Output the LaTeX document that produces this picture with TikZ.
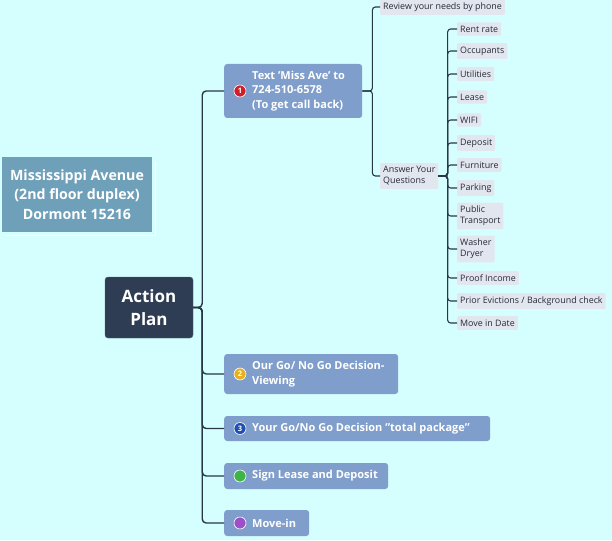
\documentclass[tikz,border=0pt]{standalone}
\usepackage{fontspec}
\setmainfont{Open Sans}
\definecolor{bgc}{RGB}{213,255,255}
\definecolor{linec}{RGB}{40,55,70}
\definecolor{branchc}{RGB}{127,158,203}
\definecolor{leafc}{RGB}{226,231,239}
\definecolor{leaftext}{RGB}{40,42,55}
\definecolor{msc}{RGB}{111,160,185}
\definecolor{apc}{RGB}{46,61,84}
\definecolor{mred}{RGB}{210,30,40}
\definecolor{myellow}{RGB}{232,176,32}
\definecolor{mblue}{RGB}{30,80,180}
\definecolor{mgreen}{RGB}{60,180,70}
\definecolor{mpurple}{RGB}{155,80,200}
\begin{document}
\begin{tikzpicture}[x=1pt,y=-1pt,
  conn/.style={draw=linec, line width=1.4pt, rounded corners=4pt},
  subconn/.style={draw=linec, line width=1.1pt, rounded corners=3pt},
  branchbox/.style={fill=branchc, rounded corners=3pt, anchor=west, inner sep=0pt},
  btext/.style={anchor=west, text=white, font=\bfseries\fontsize{11}{14.5}\selectfont, align=left, inner sep=0pt},
  leaf/.style={fill=leafc, anchor=west, text=leaftext, font=\fontsize{8.9}{11}\selectfont, align=left, inner xsep=3pt, inner ysep=3.5pt, rounded corners=1pt},
  marker/.style={circle, draw=white, line width=0.6pt, inner sep=0pt, minimum size=12pt, text=white, font=\bfseries\fontsize{7.5}{7.5}\selectfont}
]
\useasboundingbox (0,0) rectangle (612,540);
\fill[bgc] (0,0) rectangle (612,540);

% title box
\draw[white, line width=0.8pt] (6,235.5) -- (155.5,235.5) -- (155.5,161);
\node[fill=msc, minimum width=150pt, minimum height=75pt, inner sep=0pt, text=white,
  font=\bfseries\fontsize{14.2}{19.5}\selectfont, align=center] (ms) at (77,194.5)
  {Mississippi Avenue\\(2nd floor duplex)\\Dormont 15216};

% central node
\node[fill=apc, draw=apc!80!white, rounded corners=3pt, minimum width=88pt, minimum height=61pt,
  inner sep=0pt, text=white, font=\bfseries\fontsize{17}{23}\selectfont, align=center] (ap) at (149,307.5)
  {Action\\Plan};

% branch boxes
\node[branchbox, minimum width=138pt, minimum height=54pt] (b1) at (224,91) {};
\node[branchbox, minimum width=174pt, minimum height=40pt] (b2) at (224,374) {};
\node[branchbox, minimum width=266pt, minimum height=25pt] (b3) at (224,428.5) {};
\node[branchbox, minimum width=164pt, minimum height=26pt] (b4) at (224,476) {};
\node[branchbox, minimum width=85pt, minimum height=26pt] (b5) at (224,523) {};

\node[btext] (t1) at (252,91) {Text \symbol{39}Miss Ave\symbol{39} to\\724-510-6578\\(To get call back)};
\node[btext] (t2) at (252,374) {Our Go/ No Go Decision-\\Viewing};
\node[btext] (t3) at (252,428.5) {Your Go/No Go Decision \symbol{34}total package\symbol{34}};
\node[btext] (t4) at (252,476) {Sign Lease and Deposit};
\node[btext] (t5) at (252,523) {Move-in};

\node[marker, fill=mred] (m1) at (240,91) {1};
\node[marker, fill=myellow] (m2) at (240,374) {2};
\node[marker, fill=mblue] (m3) at (240,428.5) {3};
\node[marker, fill=mgreen] (m4) at (240,476) {};
\node[marker, fill=mpurple] (m5) at (240,523) {};

% main connectors
\foreach \b in {b1,b2,b3,b4,b5}
  \draw[conn] (ap.east) -- ++(9,0) |- (\b.west);

% sub nodes
\node[leaf] (rv) at (380,7) {Review your needs by phone};
\node[leaf] (aq) at (380,176) {Answer Your\\Questions};
\draw[subconn] (b1.east) -- ++(10,0) |- (rv.west);
\draw[subconn] (b1.east) -- ++(10,0) |- (aq.west);

% leaves
\node[leaf] (l1) at (457,29) {Rent rate};
\node[leaf] (l2) at (457,51) {Occupants};
\node[leaf] (l3) at (457,74) {Utilities};
\node[leaf] (l4) at (457,97) {Lease};
\node[leaf] (l5) at (457,120) {WIFI};
\node[leaf] (l6) at (457,143) {Deposit};
\node[leaf] (l7) at (457,165) {Furniture};
\node[leaf] (l8) at (457,188) {Parking};
\node[leaf] (l9) at (457,216) {Public\\Transport};
\node[leaf] (l10) at (457,249) {Washer\\Dryer};
\node[leaf] (l11) at (457,278) {Proof Income};
\node[leaf] (l12) at (457,301) {Prior Evictions / Background check};
\node[leaf] (l13) at (457,323) {Move in Date};
\foreach \l in {l1,l2,l3,l4,l5,l6,l7,l8,l9,l10,l11,l12,l13}
  \draw[subconn] (aq.east) -- ++(9,0) |- (\l.west);
\end{tikzpicture}
\end{document}
